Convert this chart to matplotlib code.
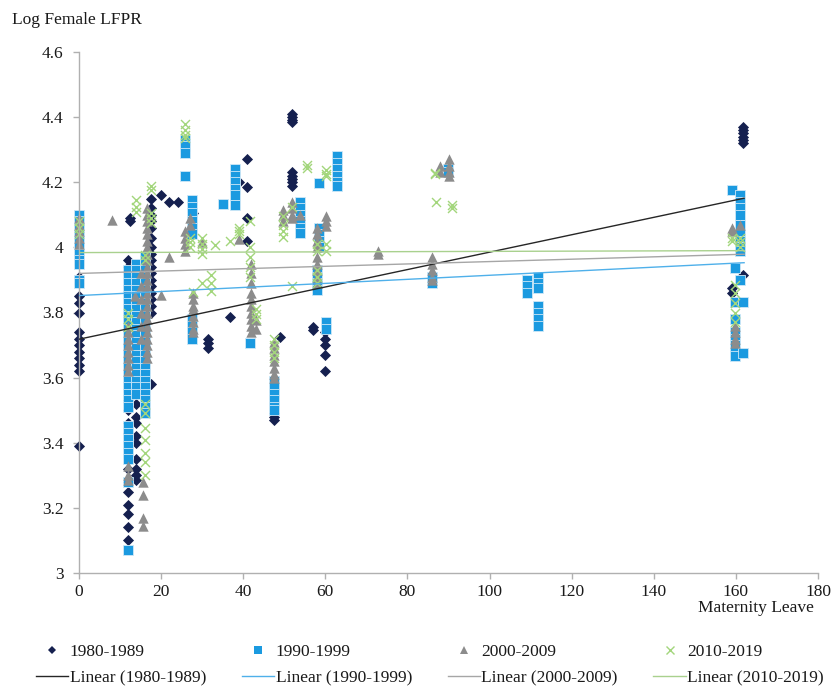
import numpy as np
import matplotlib
matplotlib.use("Agg")
import matplotlib.pyplot as plt
from matplotlib.lines import Line2D

plt.rcParams["font.family"] = ["Liberation Serif", "DejaVu Serif"]
FS = 12.5

# ---- data: maternity leave (x) and log female LFPR (y), grouped in stacked columns ----
x80 = [0, 12, 12.5, 14, 17.5, 20, 22, 24, 27.8, 31.3, 36.8, 39, 41, 47.6, 49, 52, 57, 60, 159, 161.8]
y80 = [
    [3.91, 3.89, 3.85, 3.83, 3.80, 3.74, 3.72, 3.70, 3.68, 3.66, 3.64, 3.62, 3.39],
    [3.96, 3.94, 3.92, 3.86, 3.84, 3.82, 3.80, 3.78, 3.76, 3.70, 3.56, 3.53, 3.50,
     3.46, 3.43, 3.40, 3.36, 3.32, 3.28, 3.25, 3.21, 3.18, 3.14, 3.10],
    [4.09, 4.08, 3.91, 3.88, 3.85, 3.82, 3.79],
    [3.55, 3.52, 3.48, 3.46, 3.42, 3.40, 3.35, 3.32, 3.30, 3.285],
    [4.15, 4.12, 4.10, 4.08, 4.06, 4.03, 4.00, 3.98, 3.96, 3.94, 3.92, 3.90, 3.88,
     3.86, 3.84, 3.82, 3.80, 3.58],
    [4.16],
    [4.14],
    [4.14],
    [4.105],
    [3.72, 3.705, 3.69],
    [3.785],
    [4.20],
    [4.27, 4.185, 4.09, 4.02],
    [3.49, 3.48, 3.47],
    [3.726],
    [4.41, 4.40, 4.39, 4.385, 4.23, 4.22, 4.21, 4.20, 4.19],
    [3.757, 3.745],
    [3.74, 3.72, 3.70, 3.67, 3.62],
    [3.874, 3.86],
    [4.37, 4.36, 4.35, 4.34, 4.33, 4.32, 3.915],
]

x90 = [0, 12, 14, 16, 25.8, 27.5, 35, 38, 41.7, 47.6, 53.8, 58.5, 58, 60.1, 62.9,
       85.9, 89.8, 109.1, 111.9, 159, 160.9, 159.8, 161.8]
y90 = [
    [4.10, 4.08, 4.06, 4.04, 4.02, 4.00, 3.98, 3.96, 3.95, 3.90, 3.89],
    [3.93, 3.91, 3.89, 3.87, 3.85, 3.83, 3.81, 3.79, 3.77, 3.75, 3.73, 3.71, 3.69,
     3.67, 3.65, 3.63, 3.61, 3.59, 3.57, 3.55, 3.53, 3.51, 3.45, 3.43, 3.41, 3.39,
     3.37, 3.35, 3.28, 3.07],
    [3.95, 3.93, 3.91, 3.89, 3.87, 3.85, 3.83, 3.81, 3.79, 3.77, 3.75, 3.73, 3.71,
     3.69, 3.67, 3.65, 3.63, 3.61, 3.59, 3.57, 3.55],
    [3.97, 3.95, 3.93, 3.91, 3.89, 3.87, 3.85, 3.83, 3.81, 3.79, 3.77, 3.75, 3.73,
     3.71, 3.69, 3.67, 3.65, 3.63, 3.61, 3.59, 3.57, 3.55, 3.53, 3.51, 3.49],
    [4.33, 4.31, 4.29, 4.22],
    [4.145, 4.125, 4.105, 4.08, 4.06, 4.04, 3.78, 3.76, 3.74, 3.72],
    [4.133],
    [4.24, 4.22, 4.20, 4.18, 4.16, 4.13],
    [3.706],
    [3.59, 3.57, 3.55, 3.53, 3.51, 3.50],
    [4.14, 4.12, 4.10, 4.08, 4.06, 4.045],
    [4.197, 4.06, 4.04, 4.02, 4.00],
    [3.93, 3.91, 3.89, 3.87],
    [3.77, 3.75],
    [4.28, 4.26, 4.24, 4.22, 4.20, 4.19],
    [3.89, 3.91],
    [4.24, 4.23],
    [3.90, 3.88, 3.86],
    [3.91, 3.89, 3.875, 3.82, 3.80, 3.78, 3.76],
    [4.176],
    [4.16, 4.14, 4.12, 4.10, 4.07, 4.04, 4.02, 4.00, 3.99, 3.90],
    [3.936, 3.833, 3.78, 3.74, 3.72, 3.70, 3.68, 3.665],
    [3.833, 3.675],
]

x00 = [0, 8, 12, 13.6, 15.7, 15, 16.5, 20, 22, 25.8, 27, 27.8, 30, 39, 41.8, 43, 47.6,
       49.8, 52, 53.8, 58, 60.1, 72.9, 85.9, 88, 90, 159, 160.9, 159.8]
y00 = [
    [4.09, 4.07, 4.05, 4.03, 4.01],
    [4.084],
    [3.76, 3.74, 3.72, 3.70, 3.68, 3.66, 3.64, 3.62, 3.33, 3.30, 3.285],
    [3.85],
    [3.28, 3.24, 3.17, 3.145],
    [3.92, 3.88, 3.84, 3.80, 3.76, 3.72],
    [4.12, 4.10, 4.08, 4.06, 4.04, 4.02, 4.00, 3.98, 3.96, 3.94, 3.92, 3.90, 3.88,
     3.86, 3.84, 3.82, 3.80, 3.78, 3.76, 3.74, 3.72, 3.70, 3.68, 3.66],
    [3.854],
    [3.97],
    [4.05, 4.03, 4.01, 3.99],
    [4.09, 4.07],
    [3.86, 3.84, 3.82, 3.81, 3.79, 3.77, 3.75, 3.74],
    [4.018],
    [4.025],
    [3.95, 3.92, 3.89, 3.86, 3.84, 3.82, 3.80, 3.78, 3.76, 3.74],
    [3.777, 3.75],
    [3.71, 3.69, 3.67, 3.65, 3.63, 3.61, 3.60],
    [4.115, 4.10, 4.08],
    [4.14, 4.12, 4.10, 4.09],
    [4.10],
    [4.06, 4.04, 4.02, 4.00, 3.97, 3.95, 3.93, 3.91, 3.89],
    [4.095, 4.08, 4.065],
    [3.99, 3.98],
    [3.97, 3.95, 3.93, 3.91, 3.90],
    [4.25, 4.23],
    [4.27, 4.25, 4.23, 4.22],
    [4.06, 4.05],
    [4.07],
    [3.76, 3.74, 3.72, 3.705],
]

x10 = [0, 12, 13.9, 17.5, 16, 25.8, 27, 27.8, 29.9, 32.2, 33.1, 36.8, 39, 41.7, 43,
       47.6, 49.8, 52, 55.6, 58, 60.1, 86.7, 87, 90.8, 159, 160.9, 159.8]
y10 = [
    [4.08, 4.06, 4.04],
    [3.80, 3.78, 3.755],
    [4.146, 4.124, 4.11],
    [4.19, 4.175, 4.105, 4.09, 4.075],
    [3.977, 3.96, 3.52, 3.49, 3.445, 3.408, 3.37, 3.34, 3.30],
    [4.38, 4.36, 4.345, 4.335],
    [4.03, 4.015, 4.00],
    [3.864],
    [4.03, 4.01, 3.995, 3.98, 3.89],
    [3.915, 3.89, 3.865],
    [4.007],
    [4.02],
    [4.06, 4.05, 4.04],
    [4.08, 4.00, 3.97, 3.94, 3.91],
    [3.81, 3.795, 3.78],
    [3.72, 3.70, 3.68, 3.66],
    [4.095, 4.07, 4.05, 4.033],
    [4.125, 3.88],
    [4.253, 4.245],
    [4.01, 3.99, 3.93, 3.91, 3.89],
    [4.238, 4.225, 4.218, 4.01, 3.99],
    [4.228, 4.225],
    [4.14],
    [4.13, 4.12],
    [4.03, 4.02],
    [4.03, 4.015, 4.00],
    [3.885, 3.86, 3.83, 3.80, 3.77],
]

# linear trend lines (intercept, slope), drawn across the observed leave range
labels = ["1980-1989", "1990-1999", "2000-2009", "2010-2019"]
trend_intercept = [3.718, 3.852, 3.920, 3.984]
trend_slope = [0.002673, 0.000623, 0.000364, 0.000037]
trend_x = [0, 162]

marker_colors = ["#15204f", "#1b9ae0", "#8c8c8c", "#a3d67c"]
line_colors = ["#262626", "#4fb0ea", "#a6a6a6", "#a9d18e"]


def flatten(xs, ys):
    fx, fy = [], []
    for x, col in zip(xs, ys):
        fx.extend([x] * len(col))
        fy.extend(col)
    return np.array(fx), np.array(fy)


fig = plt.figure(figsize=(8.32, 6.88), dpi=100)
ax = fig.add_axes([79 / 832, 1 - 573 / 688, (818 - 79) / 832, (573 - 52) / 688])

series = [(x80, y80), (x90, y90), (x00, y00), (x10, y10)]
styles = [
    dict(marker="D", s=32, linewidths=0),
    dict(marker="s", s=46, linewidths=0.6, edgecolors="#cfe8f7"),
    dict(marker="^", s=56, linewidths=0),
    dict(marker="x", s=42, linewidths=1.0),
]
for (xs, ys), st, c in zip(series, styles, marker_colors):
    fx, fy = flatten(xs, ys)
    ax.scatter(fx, fy, color=c, clip_on=False, zorder=2, **st)

tx = np.array(trend_x, dtype=float)
for b, m, c in zip(trend_intercept, trend_slope, line_colors):
    ax.plot(tx, b + m * tx, color=c, lw=1.0, zorder=3)

ax.set_xlim(0, 180)
ax.set_ylim(3, 4.6)
ax.set_xticks(np.arange(0, 181, 20))
ax.set_yticks([3, 3.2, 3.4, 3.6, 3.8, 4, 4.2, 4.4, 4.6])
ax.set_yticklabels(["3", "3.2", "3.4", "3.6", "3.8", "4", "4.2", "4.4", "4.6"])

for side in ["top", "right"]:
    ax.spines[side].set_visible(False)
for side in ["left", "bottom"]:
    ax.spines[side].set_color("#b0b0b0")
    ax.spines[side].set_linewidth(1.0)
ax.tick_params(axis="both", direction="out", length=4, width=1.0, color="#b0b0b0",
               labelsize=FS, labelcolor="#1a1a1a")
ax.tick_params(axis="y", pad=7)
ax.tick_params(axis="x", pad=4)

fig.text(12 / 832, 1 - 20 / 688, "Log Female LFPR", fontsize=FS, color="#1a1a1a",
         ha="left", va="center")
fig.text(814 / 832, 1 - 608 / 688, "Maternity Leave", fontsize=FS, color="#1a1a1a",
         ha="right", va="center")

# legend: marker entries on the first row, trend lines on the second
handles = []
legend_labels = []
for i, lab in enumerate(labels):
    st = styles[i]
    mk = Line2D([], [], linestyle="none", marker=st["marker"], color=marker_colors[i],
                markersize=6 if st["marker"] != "D" else 4.5,
                markeredgewidth=1.0 if st["marker"] == "x" else 0)
    ln = Line2D([], [], color=line_colors[i], lw=1.0)
    handles += [mk, ln]
    legend_labels += [lab, "Linear (%s)" % lab]

leg = fig.legend(handles, legend_labels, ncol=4, loc="upper left",
                 bbox_to_anchor=(36 / 832, 1 - 644 / 688), bbox_transform=fig.transFigure,
                 frameon=False, fontsize=FS, handlelength=1.85, handletextpad=0.1,
                 columnspacing=2.05, labelspacing=0.56, borderpad=0, borderaxespad=0)
for t in leg.get_texts():
    t.set_color("#1a1a1a")

fig.savefig("out.png", dpi=100)
